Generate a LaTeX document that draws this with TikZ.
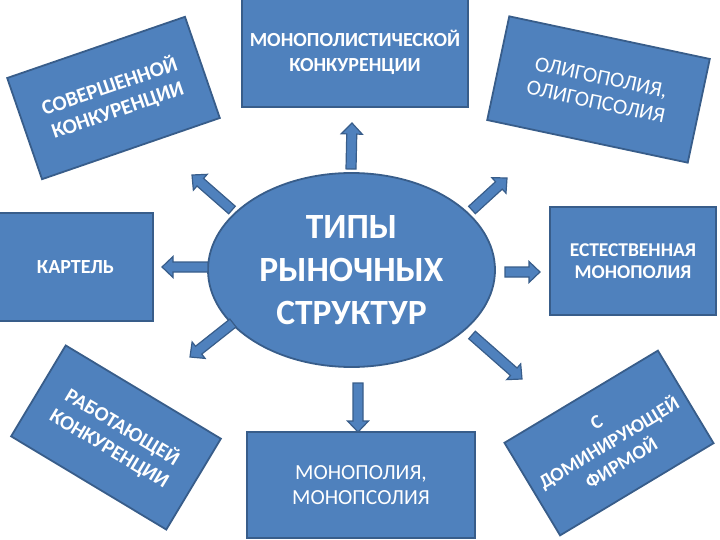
\documentclass[tikz,border=0pt]{standalone}
\usepackage{fontspec}
\setmainfont{Carlito}
\usetikzlibrary{shapes.geometric,calc}
\definecolor{boxblue}{HTML}{4F81BD}
\definecolor{boxedge}{HTML}{385D8A}
\tikzset{
  box/.style={draw=boxedge, line width=1.8pt, fill=boxblue, text=white,
    align=center, inner sep=0pt, font=\bfseries\fontsize{20}{25}\selectfont},
  boxreg/.style={box, font=\fontsize{21.5}{25}\selectfont},
  boxbig/.style={box, font=\bfseries\fontsize{20.5}{25}\selectfont},
  centre/.style={ellipse, draw=boxedge, line width=1.8pt, fill=boxblue, text=white,
    align=center, inner sep=0pt, font=\bfseries\fontsize{35.5}{43}\selectfont},
  barrowsty/.style={draw=boxedge, line width=1.2pt, fill=boxblue, line join=miter},
}
\newcommand{\blockarrow}[2]{%
  \coordinate (hb) at ($(#2)!11pt!(#1)$);
  \draw[barrowsty] ($(#1)!5pt!90:(#2)$) -- ($(hb)!5pt!90:(#2)$) -- ($(hb)!10.5pt!90:(#2)$)
    -- (#2) -- ($(hb)!10.5pt!-90:(#2)$) -- ($(hb)!5pt!-90:(#2)$) -- ($(#1)!5pt!-90:(#2)$) -- cycle;
}
\begin{document}
\begin{tikzpicture}[x=1pt,y=-1pt]
\useasboundingbox (0,0) rectangle (720,540);

% boxes
\node[box, minimum width=188pt, minimum height=107pt, rotate=19, font=\bfseries\fontsize{21}{25}\selectfont] (perf) at (113.5,98) {СОВЕРШЕННОЙ\\КОНКУРЕНЦИИ};
\node[box, minimum width=226pt, minimum height=109pt] (monocomp) at (355,52.5) {МОНОПОЛИСТИЧЕСКОЙ\\КОНКУРЕНЦИИ};
\node[boxreg, minimum width=205pt, minimum height=106pt, rotate=-12] (oligo) at (598.5,89.5) {ОЛИГОПОЛИЯ,\\ОЛИГОПСОЛИЯ};
\node[box, minimum width=155pt, minimum height=108pt] (cartel) at (75.5,267) {КАРТЕЛЬ};
\node[box, minimum width=166pt, minimum height=108pt, font=\bfseries\fontsize{19.5}{22}\selectfont] (natmono) at (633,261) {ЕСТЕСТВЕННАЯ\\МОНОПОЛИЯ};
\node[boxbig, minimum width=181pt, minimum height=106pt, rotate=-31] (work) at (116,437.5) {РАБОТАЮЩЕЙ\\КОНКУРЕНЦИИ};
\node[boxbig, minimum width=179pt, minimum height=108pt, rotate=31, font=\bfseries\fontsize{19.5}{24}\selectfont] (domin) at (609,443) {С\\ДОМИНИРУЮЩЕЙ\\ФИРМОЙ};
\node[boxreg, minimum width=228pt, minimum height=106pt] (mono) at (361,485) {МОНОПОЛИЯ,\\МОНОПСОЛИЯ};

% centre
\node[centre, minimum width=287pt, minimum height=194pt] (types) at (351.5,270) {ТИПЫ\\РЫНОЧНЫХ\\СТРУКТУР};

% arrow ends
\coordinate (uT) at (351,169);  \coordinate (uH) at (352,123);
\coordinate (dT) at (358,383);  \coordinate (dH) at (358,432);
\coordinate (lT) at (208,267);  \coordinate (lH) at (162,267);
\coordinate (rT) at (505,272);  \coordinate (rH) at (540,272);
\coordinate (ulT) at (232,210); \coordinate (ulH) at (192,175);
\coordinate (urT) at (472,210); \coordinate (urH) at (507,178);
\coordinate (llT) at (233,323); \coordinate (llH) at (190,357);
\coordinate (lrT) at (472,335); \coordinate (lrH) at (522,379);

\blockarrow{uT}{uH}
\blockarrow{dT}{dH}
\blockarrow{lT}{lH}
\blockarrow{rT}{rH}
\blockarrow{ulT}{ulH}
\blockarrow{urT}{urH}
\blockarrow{llT}{llH}
\blockarrow{lrT}{lrH}
\end{tikzpicture}
\end{document}
